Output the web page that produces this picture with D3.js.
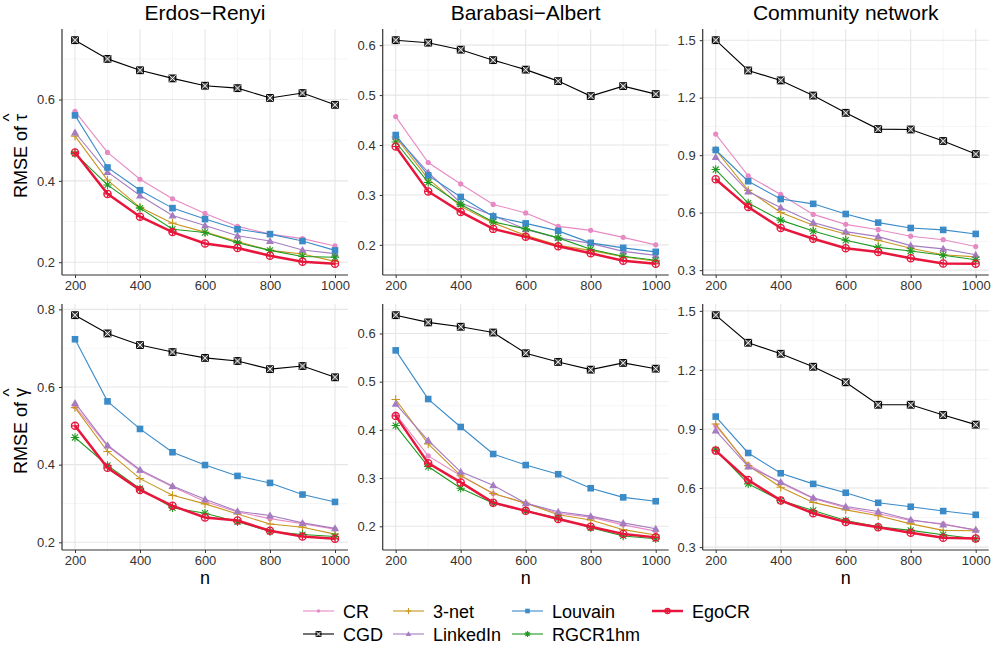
<!DOCTYPE html>
<html lang="en">
<head>
<meta charset="utf-8">
<title>RMSE by network size</title>
<script src="https://d3js.org/d3.v7.min.js"></script>
<style>
body { margin: 0; background: #fff; }
text { font-family: "Liberation Sans", Arial, sans-serif; }
</style>
</head>
<body>
<div id="chart"></div>
<script>

// DATA
var nValues = [200, 300, 400, 500, 600, 700, 800, 900, 1000];
var xTicks = [200, 400, 600, 800, 1000];
var methods = ["CR", "CGD", "3-net", "LinkedIn", "Louvain", "RGCR1hm", "EgoCR"];
var networks = ["Erdos\u2212Renyi", "Barabasi\u2212Albert", "Community network"];

var tauER = {
  "CR":       [0.571, 0.470, 0.404, 0.356, 0.320, 0.288, 0.269, 0.258, 0.240],
  "CGD":      [0.746, 0.700, 0.672, 0.652, 0.634, 0.628, 0.604, 0.616, 0.587],
  "3-net":    [0.510, 0.402, 0.335, 0.296, 0.274, 0.251, 0.229, 0.220, 0.202],
  "LinkedIn": [0.519, 0.422, 0.364, 0.315, 0.290, 0.265, 0.252, 0.230, 0.221],
  "Louvain":  [0.561, 0.433, 0.377, 0.333, 0.306, 0.281, 0.269, 0.252, 0.229],
  "RGCR1hm":  [0.467, 0.390, 0.333, 0.281, 0.273, 0.248, 0.229, 0.214, 0.212],
  "EgoCR":    [0.470, 0.368, 0.312, 0.274, 0.246, 0.235, 0.216, 0.201, 0.196]
};
var tauBA = {
  "CR":       [0.457, 0.365, 0.322, 0.281, 0.264, 0.237, 0.229, 0.215, 0.200],
  "CGD":      [0.610, 0.605, 0.591, 0.570, 0.551, 0.528, 0.498, 0.518, 0.502],
  "3-net":    [0.416, 0.332, 0.277, 0.244, 0.219, 0.199, 0.189, 0.176, 0.167],
  "LinkedIn": [0.417, 0.345, 0.284, 0.259, 0.231, 0.214, 0.203, 0.187, 0.179],
  "Louvain":  [0.420, 0.339, 0.296, 0.257, 0.243, 0.228, 0.204, 0.194, 0.186],
  "RGCR1hm":  [0.406, 0.325, 0.281, 0.246, 0.232, 0.214, 0.191, 0.177, 0.169],
  "EgoCR":    [0.397, 0.307, 0.266, 0.232, 0.216, 0.197, 0.183, 0.168, 0.162]
};
var tauCM = {
  "CR":       [1.010, 0.792, 0.695, 0.591, 0.539, 0.511, 0.477, 0.459, 0.423],
  "CGD":      [1.500, 1.342, 1.290, 1.211, 1.121, 1.036, 1.034, 0.974, 0.906],
  "3-net":    [0.927, 0.716, 0.601, 0.534, 0.489, 0.456, 0.414, 0.380, 0.369],
  "LinkedIn": [0.890, 0.710, 0.627, 0.549, 0.501, 0.475, 0.428, 0.411, 0.380],
  "Louvain":  [0.927, 0.764, 0.671, 0.646, 0.593, 0.548, 0.520, 0.510, 0.489],
  "RGCR1hm":  [0.825, 0.650, 0.561, 0.504, 0.456, 0.419, 0.400, 0.378, 0.354],
  "EgoCR":    [0.774, 0.629, 0.520, 0.464, 0.414, 0.395, 0.362, 0.335, 0.333]
};
var gammaER = {
  "CR":       [0.550, 0.448, 0.384, 0.343, 0.305, 0.278, 0.261, 0.248, 0.234],
  "CGD":      [0.785, 0.738, 0.708, 0.690, 0.675, 0.667, 0.646, 0.654, 0.625],
  "3-net":    [0.547, 0.434, 0.364, 0.321, 0.299, 0.273, 0.247, 0.239, 0.221],
  "LinkedIn": [0.559, 0.450, 0.387, 0.345, 0.311, 0.280, 0.269, 0.250, 0.236],
  "Louvain":  [0.723, 0.563, 0.492, 0.432, 0.399, 0.371, 0.353, 0.323, 0.304],
  "RGCR1hm":  [0.470, 0.398, 0.338, 0.289, 0.275, 0.253, 0.228, 0.220, 0.215],
  "EgoCR":    [0.500, 0.392, 0.335, 0.294, 0.264, 0.256, 0.230, 0.215, 0.209]
};
var gammaBA = {
  "CR":       [0.433, 0.346, 0.305, 0.268, 0.248, 0.227, 0.219, 0.203, 0.190],
  "CGD":      [0.638, 0.623, 0.614, 0.602, 0.559, 0.541, 0.525, 0.539, 0.527],
  "3-net":    [0.463, 0.371, 0.305, 0.268, 0.248, 0.224, 0.213, 0.193, 0.182],
  "LinkedIn": [0.454, 0.378, 0.313, 0.285, 0.248, 0.230, 0.221, 0.207, 0.195],
  "Louvain":  [0.565, 0.464, 0.406, 0.350, 0.327, 0.308, 0.279, 0.260, 0.252],
  "RGCR1hm":  [0.409, 0.324, 0.279, 0.248, 0.232, 0.217, 0.197, 0.180, 0.174],
  "EgoCR":    [0.429, 0.331, 0.291, 0.249, 0.232, 0.215, 0.199, 0.184, 0.177]
};
var gammaCM = {
  "CR":       [0.917, 0.719, 0.626, 0.547, 0.500, 0.469, 0.435, 0.418, 0.385],
  "CGD":      [1.478, 1.338, 1.282, 1.216, 1.137, 1.023, 1.023, 0.971, 0.922],
  "3-net":    [0.925, 0.714, 0.604, 0.527, 0.489, 0.459, 0.418, 0.385, 0.383],
  "LinkedIn": [0.892, 0.709, 0.631, 0.550, 0.506, 0.481, 0.439, 0.415, 0.388],
  "Louvain":  [0.963, 0.778, 0.675, 0.621, 0.576, 0.525, 0.505, 0.483, 0.464],
  "RGCR1hm":  [0.794, 0.621, 0.537, 0.486, 0.435, 0.403, 0.385, 0.363, 0.342],
  "EgoCR":    [0.790, 0.641, 0.537, 0.472, 0.427, 0.401, 0.373, 0.347, 0.344]
};

var yTicksTauER = [0.2, 0.4, 0.6];
var yTicksTauBA = [0.2, 0.3, 0.4, 0.5, 0.6];
var yTicksTauCM = [0.3, 0.6, 0.9, 1.2, 1.5];
var yTicksGammaER = [0.2, 0.4, 0.6, 0.8];
var yTicksGammaBA = [0.2, 0.3, 0.4, 0.5, 0.6];
var yTicksGammaCM = [0.3, 0.6, 0.9, 1.2, 1.5];

// STYLES
var colors = {
  "CR": "#e78ac3", "CGD": "#000000", "3-net": "#c8961e", "LinkedIn": "#a57cc0",
  "Louvain": "#3a8bc8", "RGCR1hm": "#1f9a1f", "EgoCR": "#e8163c"
};

var w = 992, h = 647;
var svg = d3.select("#chart").append("svg")
  .attr("width", w).attr("height", h)
  .attr("viewBox", "0 0 " + w + " " + h);

var colX = [62, 382.7, 702.7];
var rowY = [29, 304];
var pw = 286, ph = 246;

var panels = [
  {row: 0, col: 0, data: tauER, ticks: yTicksTauER},
  {row: 0, col: 1, data: tauBA, ticks: yTicksTauBA},
  {row: 0, col: 2, data: tauCM, ticks: yTicksTauCM},
  {row: 1, col: 0, data: gammaER, ticks: yTicksGammaER},
  {row: 1, col: 1, data: gammaBA, ticks: yTicksGammaBA},
  {row: 1, col: 2, data: gammaCM, ticks: yTicksGammaCM}
];

function marker(g, m, x, y, s) {
  var c = colors[m];
  s = s || 1;
  if (m === "CR") {
    g.append("circle").attr("cx", x).attr("cy", y).attr("r", 2.6 * s).attr("fill", c);
  } else if (m === "CGD") {
    var a = 3.3 * s;
    g.append("rect").attr("x", x - a).attr("y", y - a).attr("width", 2 * a).attr("height", 2 * a)
      .attr("fill", "#555").attr("stroke", c).attr("stroke-width", 1.2);
    g.append("path").attr("d", "M" + (x - a) + "," + (y - a) + "L" + (x + a) + "," + (y + a) +
      "M" + (x + a) + "," + (y - a) + "L" + (x - a) + "," + (y + a))
      .attr("stroke", "#fff").attr("stroke-width", 0.9);
  } else if (m === "3-net") {
    var p = 4.2 * s;
    g.append("path").attr("d", "M" + (x - p) + "," + y + "H" + (x + p) + "M" + x + "," + (y - p) + "V" + (y + p))
      .attr("stroke", c).attr("stroke-width", 1.1);
  } else if (m === "LinkedIn") {
    var t = 4 * s;
    g.append("path").attr("d", "M" + x + "," + (y - t) + "L" + (x + t) + "," + (y + t * 0.75) + "L" + (x - t) + "," + (y + t * 0.75) + "Z")
      .attr("fill", c);
  } else if (m === "Louvain") {
    var q = 3.3 * s;
    g.append("rect").attr("x", x - q).attr("y", y - q).attr("width", 2 * q).attr("height", 2 * q).attr("fill", c);
  } else if (m === "RGCR1hm") {
    var r = 4.2 * s, d = r * 0.72;
    g.append("path").attr("d", "M" + (x - r) + "," + y + "H" + (x + r) + "M" + x + "," + (y - r) + "V" + (y + r) +
      "M" + (x - d) + "," + (y - d) + "L" + (x + d) + "," + (y + d) + "M" + (x + d) + "," + (y - d) + "L" + (x - d) + "," + (y + d))
      .attr("stroke", c).attr("stroke-width", 1.1);
  } else if (m === "EgoCR") {
    var e = 3.6 * s;
    g.append("circle").attr("cx", x).attr("cy", y).attr("r", e).attr("fill", "none").attr("stroke", c).attr("stroke-width", 1.3);
    g.append("path").attr("d", "M" + (x - e) + "," + y + "H" + (x + e) + "M" + x + "," + (y - e) + "V" + (y + e))
      .attr("stroke", c).attr("stroke-width", 1.1);
  }
}

var fmt = d3.format(".1f");

panels.forEach(function(p) {
  var x0 = colX[p.col], y0 = rowY[p.row];
  var g = svg.append("g").attr("class", "panel");

  var x = d3.scaleLinear().domain([160, 1040]).range([x0, x0 + pw]);
  var all = [];
  methods.forEach(function(m) { all = all.concat(p.data[m]); });
  var ext = d3.extent(all);
  var pad = (ext[1] - ext[0]) * 0.05;
  var y = d3.scaleLinear().domain([ext[0] - pad, ext[1] + pad]).range([y0 + ph, y0]);

  // grid
  var step = p.ticks[1] - p.ticks[0];
  var minorY = [p.ticks[0] - step / 2].concat(p.ticks.map(function(t) { return t + step / 2; }))
    .filter(function(v) { return v > y.domain()[0] && v < y.domain()[1]; });
  var minorX = [300, 500, 700, 900];
  g.selectAll(".minorY").data(minorY).enter().append("line")
    .attr("x1", x0).attr("x2", x0 + pw).attr("y1", y).attr("y2", y)
    .attr("stroke", "#f2f2f2").attr("stroke-width", 0.8);
  g.selectAll(".minorX").data(minorX).enter().append("line")
    .attr("y1", y0).attr("y2", y0 + ph).attr("x1", x).attr("x2", x)
    .attr("stroke", "#f2f2f2").attr("stroke-width", 0.8);
  g.selectAll(".majorY").data(p.ticks).enter().append("line")
    .attr("x1", x0).attr("x2", x0 + pw).attr("y1", y).attr("y2", y)
    .attr("stroke", "#e6e6e6").attr("stroke-width", 1.1);
  g.selectAll(".majorX").data(xTicks).enter().append("line")
    .attr("y1", y0).attr("y2", y0 + ph).attr("x1", x).attr("x2", x)
    .attr("stroke", "#e6e6e6").attr("stroke-width", 1.1);

  // axes
  var ax = g.append("g").attr("transform", "translate(0," + (y0 + ph) + ")")
    .call(d3.axisBottom(x).tickValues(xTicks).tickSize(3).tickPadding(3).tickFormat(d3.format("d")));
  var ay = g.append("g").attr("transform", "translate(" + x0 + ",0)")
    .call(d3.axisLeft(y).tickValues(p.ticks).tickSize(3).tickPadding(4).tickFormat(fmt));
  [ax, ay].forEach(function(a) {
    a.select(".domain").attr("stroke", "#333").attr("stroke-width", 1.2);
    a.selectAll(".tick line").attr("stroke", "#333");
    a.selectAll(".tick text").attr("fill", "#333").style("font-size", "13px")
      .style("font-family", "'Liberation Sans', Arial, sans-serif");
  });
  ax.select(".domain").attr("d", "M" + x0 + ",0H" + (x0 + pw));
  ay.select(".domain").attr("d", "M0," + y0 + "V" + (y0 + ph));

  // lines
  var line = d3.line().x(function(d, i) { return x(nValues[i]); }).y(function(d) { return y(d); });
  methods.forEach(function(m) {
    var s = g.append("g");
    s.append("path").datum(p.data[m]).attr("d", line).attr("fill", "none")
      .attr("stroke", colors[m]).attr("stroke-width", m === "EgoCR" ? 2.5 : 1.1);
    p.data[m].forEach(function(v, i) { marker(s, m, x(nValues[i]), y(v)); });
  });
});

// titles
networks.forEach(function(t, i) {
  svg.append("text").text(t).attr("x", colX[i] + pw / 2).attr("y", 20)
    .attr("text-anchor", "middle").style("font-size", "21px").attr("fill", "#000");
});

// y labels: "RMSE of" + greek letter with a hat drawn above it
var yLetters = ["\u03c4", "\u03b3"];
yLetters.forEach(function(letter, i) {
  var lab = svg.append("g")
    .attr("transform", "translate(27," + (rowY[i] + ph / 2 + 4) + ") rotate(-90)");
  var txt = lab.append("text").attr("text-anchor", "middle")
    .style("font-size", "18px").attr("fill", "#000").text("RMSE of " + letter);
  var full = txt.node().getComputedTextLength();
  var probe = lab.append("text").style("font-size", "18px").text(letter);
  var lw = probe.node().getComputedTextLength();
  probe.remove();
  lab.append("text").text("^").attr("x", full / 2 - lw / 2).attr("y", -12)
    .attr("text-anchor", "middle").style("font-size", "17px").attr("fill", "#000");
});

// x labels
colX.forEach(function(cx) {
  svg.append("text").text("n").attr("x", cx + pw / 2).attr("y", 584)
    .attr("text-anchor", "middle").style("font-size", "18px").attr("fill", "#000");
});

// legend
var legX = [303, 393, 512, 652];
var legY = [611, 634];
methods.forEach(function(m, i) {
  var lx = legX[Math.floor(i / 2)], ly = legY[i % 2];
  var lg = svg.append("g");
  lg.append("line").attr("x1", lx).attr("x2", lx + 31).attr("y1", ly).attr("y2", ly)
    .attr("stroke", colors[m]).attr("stroke-width", m === "EgoCR" ? 2.5 : 1.1);
  marker(lg, m, lx + 15.5, ly, 0.7);
  lg.append("text").text(m).attr("x", lx + 40).attr("y", ly + 6.5)
    .style("font-size", "18px").attr("fill", "#000");
});

</script>
</body>
</html>
